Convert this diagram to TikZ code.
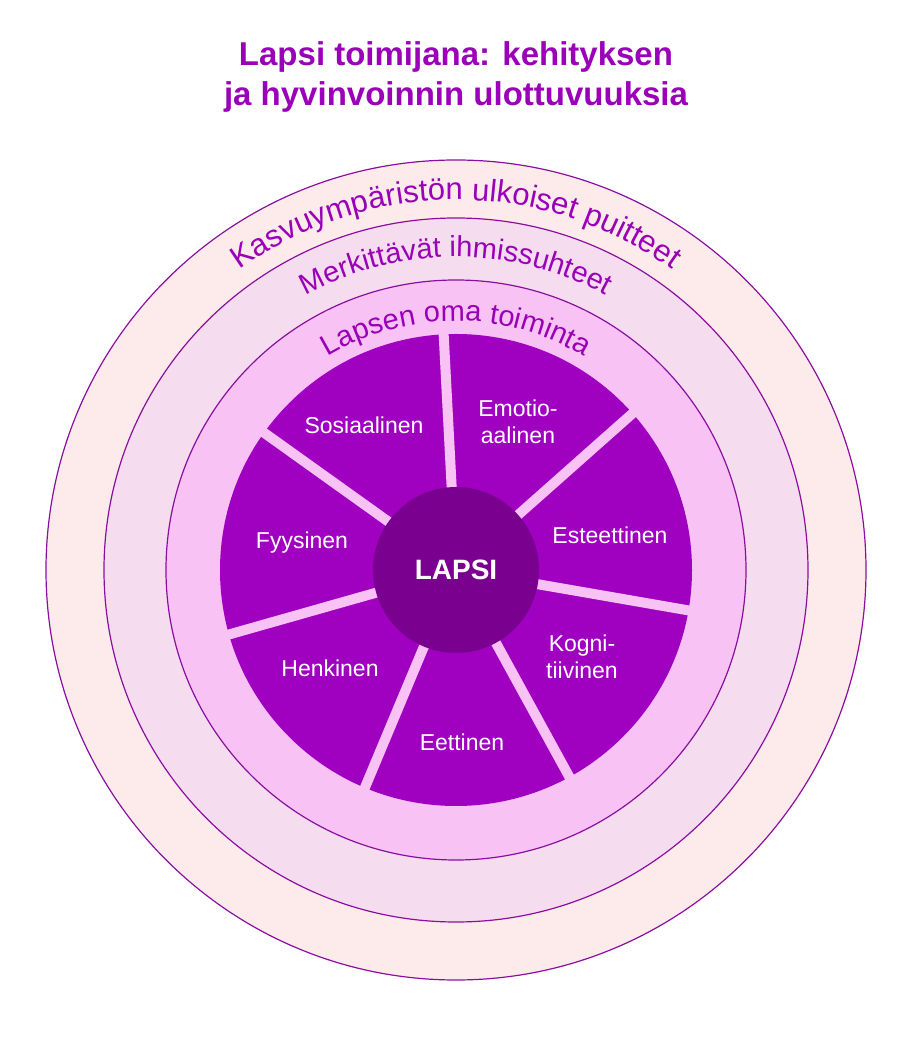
\documentclass[tikz,border=0pt]{standalone}
\usepackage{fontspec}
\setmainfont{Liberation Sans}
\usetikzlibrary{decorations.text}
\definecolor{ttl}{HTML}{9A00B8}
\definecolor{ringA}{HTML}{FDEBEC}
\definecolor{ringB}{HTML}{F6DCEF}
\definecolor{ringC}{HTML}{F8C2F4}
\definecolor{pie}{HTML}{A000C0}
\definecolor{core}{HTML}{7A0090}
\definecolor{edge}{HTML}{8A0FA0}
\tikzset{
  ring/.style={draw=edge, line width=1.2pt},
  sep/.style={draw=ringC, line width=10pt},
  seclabel/.style={text=white, font=\fontsize{23}{27}\selectfont, align=center},
  arctext/.style={decorate, decoration={text along path, text align=center, text color=ttl}}
}
\begin{document}
\begin{tikzpicture}[x=1pt,y=1pt]
\useasboundingbox (-456,-470) rectangle (456,570);
\node (title) at (0,493) [text=ttl, font=\bfseries\fontsize{33}{40}\selectfont, align=center] {Lapsi toimijana: kehityksen\\ja hyvinvoinnin ulottuvuuksia};
\path[ring, fill=ringA] (0,0) circle[radius=410];
\path[ring, fill=ringB] (0,0) circle[radius=352];
\path[ring, fill=ringC] (0,0) circle[radius=290];
\fill[pie] (0,0) circle[radius=236];
\foreach \a in {93,41.57,-9.86,-61.29,-112.71,-164.14,144.43}
  \draw[sep] (0,0) -- (\a:242);
\node (lapsi) at (0,0) [circle, fill=core, minimum size=166pt, inner sep=0pt, text=white, font=\bfseries\fontsize{28}{32}\selectfont] {LAPSI};
\node (sos) at (-92,145) [seclabel] {Sosiaalinen};
\node (emo) at (62,148) [seclabel] {Emotio-\\aalinen};
\node (est) at (154,35) [seclabel] {Esteettinen};
\node (kog) at (126,-87) [seclabel] {Kogni-\\tiivinen};
\node (eet) at (6,-172) [seclabel] {Eettinen};
\node (hen) at (-126,-98) [seclabel] {Henkinen};
\node (fyy) at (-154,27) [seclabel] {Fyysinen};
\path[arctext, decoration={text={|\fontsize{31}{32}\selectfont|Kasvuympäristön ulkoiset puitteet}}]
  (160:370) arc[start angle=160, end angle=20, radius=370];
\path[arctext, decoration={text={|\fontsize{29}{30}\selectfont|Merkittävät ihmissuhteet}}]
  (160:313) arc[start angle=160, end angle=20, radius=313];
\path[arctext, decoration={text={|\fontsize{29}{30}\selectfont|Lapsen oma toiminta}}]
  (160:249) arc[start angle=160, end angle=20, radius=249];
\end{tikzpicture}
\end{document}
